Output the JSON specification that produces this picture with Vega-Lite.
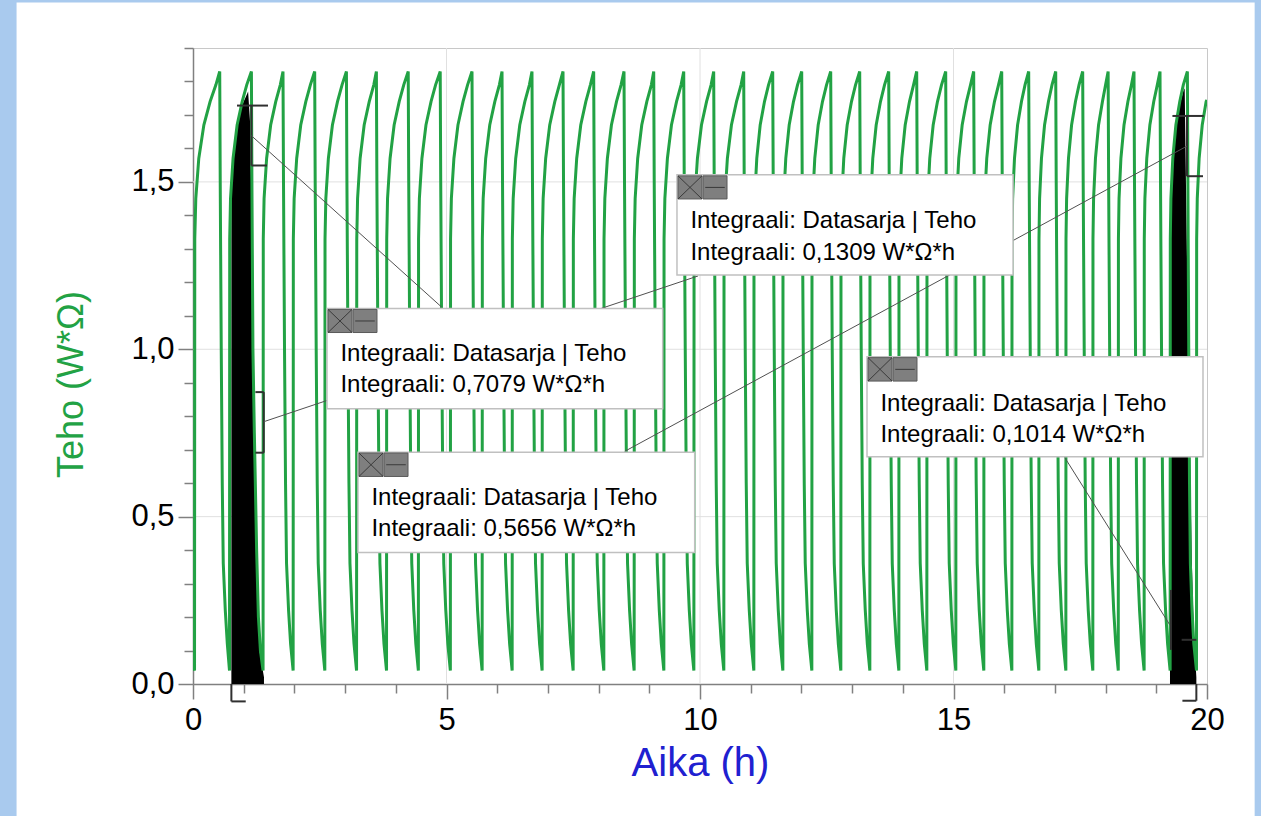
{
"$schema": "https://vega.github.io/schema/vega-lite/v6.json",
"width": 1014, "height": 636,
"autosize": "none",
"padding": {"left": 193, "top": 48, "right": 54, "bottom": 132},
"background": "white",
"config": {"view": {"stroke": "#c8c8c8", "strokeWidth": 1}, "font": "Liberation Sans"},
"datasets": {
"curve": [
{"t":0,"p":0.06},{"t":0.03,"p":0.04},{"t":0.035,"p":1.33},{"t":0.055,"p":1.45},{"t":0.114,"p":1.57},{"t":0.214,"p":1.67},{"t":0.338,"p":1.74},{"t":0.452,"p":1.79},{"t":0.527,"p":1.83},{"t":0.537,"p":1.5},{"t":0.557,"p":1.0},{"t":0.577,"p":0.6},{"t":0.597,"p":0.36},{"t":0.637,"p":0.22},{"t":0.677,"p":0.12},
{"t":0.72,"p":0.04},{"t":0.724,"p":1.33},{"t":0.74,"p":1.45},{"t":0.79,"p":1.57},{"t":0.87,"p":1.67},{"t":0.97,"p":1.74},{"t":1.06,"p":1.79},{"t":1.152,"p":1.83},{"t":1.162,"p":1.5},{"t":1.182,"p":1.0},{"t":1.21,"p":0.75},{"t":1.255,"p":0.4},{"t":1.29,"p":0.2},{"t":1.33,"p":0.1},
{"t":1.382,"p":0.04},{"t":1.386,"p":1.33},{"t":1.402,"p":1.45},{"t":1.452,"p":1.57},{"t":1.532,"p":1.67},{"t":1.632,"p":1.74},{"t":1.722,"p":1.79},{"t":1.775,"p":1.83},{"t":1.785,"p":1.5},{"t":1.805,"p":1.0},{"t":1.825,"p":0.6},{"t":1.845,"p":0.36},{"t":1.885,"p":0.22},{"t":1.925,"p":0.12},
{"t":1.975,"p":0.04},{"t":1.979,"p":1.33},{"t":1.995,"p":1.45},{"t":2.045,"p":1.57},{"t":2.125,"p":1.67},{"t":2.225,"p":1.74},{"t":2.315,"p":1.79},{"t":2.4,"p":1.83},{"t":2.41,"p":1.5},{"t":2.43,"p":1.0},{"t":2.45,"p":0.6},{"t":2.47,"p":0.36},{"t":2.51,"p":0.22},{"t":2.55,"p":0.12},
{"t":2.6,"p":0.04},{"t":2.604,"p":1.33},{"t":2.62,"p":1.45},{"t":2.67,"p":1.57},{"t":2.75,"p":1.67},{"t":2.85,"p":1.74},{"t":2.94,"p":1.79},{"t":3.026,"p":1.83},{"t":3.036,"p":1.5},{"t":3.056,"p":1.0},{"t":3.076,"p":0.6},{"t":3.096,"p":0.36},{"t":3.136,"p":0.22},{"t":3.176,"p":0.12},
{"t":3.226,"p":0.04},{"t":3.23,"p":1.33},{"t":3.246,"p":1.45},{"t":3.296,"p":1.57},{"t":3.376,"p":1.67},{"t":3.476,"p":1.74},{"t":3.566,"p":1.79},{"t":3.617,"p":1.83},{"t":3.627,"p":1.5},{"t":3.647,"p":1.0},{"t":3.667,"p":0.6},{"t":3.687,"p":0.36},{"t":3.727,"p":0.22},{"t":3.767,"p":0.12},
{"t":3.817,"p":0.04},{"t":3.821,"p":1.33},{"t":3.837,"p":1.45},{"t":3.887,"p":1.57},{"t":3.967,"p":1.67},{"t":4.067,"p":1.74},{"t":4.157,"p":1.79},{"t":4.245,"p":1.83},{"t":4.255,"p":1.5},{"t":4.275,"p":1.0},{"t":4.295,"p":0.6},{"t":4.315,"p":0.36},{"t":4.355,"p":0.22},{"t":4.395,"p":0.12},
{"t":4.445,"p":0.04},{"t":4.449,"p":1.33},{"t":4.465,"p":1.45},{"t":4.515,"p":1.57},{"t":4.595,"p":1.67},{"t":4.695,"p":1.74},{"t":4.785,"p":1.79},{"t":4.876,"p":1.83},{"t":4.886,"p":1.5},{"t":4.906,"p":1.0},{"t":4.926,"p":0.6},{"t":4.946,"p":0.36},{"t":4.986,"p":0.22},{"t":5.026,"p":0.12},
{"t":5.076,"p":0.04},{"t":5.08,"p":1.33},{"t":5.096,"p":1.45},{"t":5.146,"p":1.57},{"t":5.226,"p":1.67},{"t":5.326,"p":1.74},{"t":5.416,"p":1.79},{"t":5.503,"p":1.83},{"t":5.513,"p":1.5},{"t":5.533,"p":1.0},{"t":5.553,"p":0.6},{"t":5.573,"p":0.36},{"t":5.613,"p":0.22},{"t":5.653,"p":0.12},
{"t":5.703,"p":0.04},{"t":5.707,"p":1.33},{"t":5.723,"p":1.45},{"t":5.773,"p":1.57},{"t":5.853,"p":1.67},{"t":5.953,"p":1.74},{"t":6.043,"p":1.79},{"t":6.095,"p":1.83},{"t":6.105,"p":1.5},{"t":6.125,"p":1.0},{"t":6.145,"p":0.6},{"t":6.165,"p":0.36},{"t":6.205,"p":0.22},{"t":6.245,"p":0.12},
{"t":6.295,"p":0.04},{"t":6.299,"p":1.33},{"t":6.315,"p":1.45},{"t":6.365,"p":1.57},{"t":6.445,"p":1.67},{"t":6.545,"p":1.74},{"t":6.635,"p":1.79},{"t":6.686,"p":1.83},{"t":6.696,"p":1.5},{"t":6.716,"p":1.0},{"t":6.736,"p":0.6},{"t":6.756,"p":0.36},{"t":6.796,"p":0.22},{"t":6.836,"p":0.12},
{"t":6.886,"p":0.04},{"t":6.89,"p":1.33},{"t":6.906,"p":1.45},{"t":6.956,"p":1.57},{"t":7.036,"p":1.67},{"t":7.136,"p":1.74},{"t":7.226,"p":1.79},{"t":7.298,"p":1.83},{"t":7.308,"p":1.5},{"t":7.328,"p":1.0},{"t":7.348,"p":0.6},{"t":7.368,"p":0.36},{"t":7.408,"p":0.22},{"t":7.448,"p":0.12},
{"t":7.498,"p":0.04},{"t":7.502,"p":1.33},{"t":7.518,"p":1.45},{"t":7.568,"p":1.57},{"t":7.648,"p":1.67},{"t":7.748,"p":1.74},{"t":7.838,"p":1.79},{"t":7.903,"p":1.83},{"t":7.913,"p":1.5},{"t":7.933,"p":1.0},{"t":7.953,"p":0.6},{"t":7.973,"p":0.36},{"t":8.013,"p":0.22},{"t":8.053,"p":0.12},
{"t":8.103,"p":0.04},{"t":8.107,"p":1.33},{"t":8.123,"p":1.45},{"t":8.173,"p":1.57},{"t":8.253,"p":1.67},{"t":8.353,"p":1.74},{"t":8.443,"p":1.79},{"t":8.501,"p":1.83},{"t":8.511,"p":1.5},{"t":8.531,"p":1.0},{"t":8.551,"p":0.6},{"t":8.571,"p":0.36},{"t":8.611,"p":0.22},{"t":8.651,"p":0.12},
{"t":8.701,"p":0.04},{"t":8.705,"p":1.33},{"t":8.721,"p":1.45},{"t":8.771,"p":1.57},{"t":8.851,"p":1.67},{"t":8.951,"p":1.74},{"t":9.041,"p":1.79},{"t":9.087,"p":1.83},{"t":9.097,"p":1.5},{"t":9.117,"p":1.0},{"t":9.137,"p":0.6},{"t":9.157,"p":0.36},{"t":9.197,"p":0.22},{"t":9.237,"p":0.12},
{"t":9.287,"p":0.04},{"t":9.291,"p":1.33},{"t":9.307,"p":1.45},{"t":9.357,"p":1.57},{"t":9.437,"p":1.67},{"t":9.537,"p":1.74},{"t":9.627,"p":1.79},{"t":9.679,"p":1.83},{"t":9.689,"p":1.5},{"t":9.709,"p":1.0},{"t":9.729,"p":0.6},{"t":9.749,"p":0.36},{"t":9.789,"p":0.22},{"t":9.829,"p":0.12},
{"t":9.879,"p":0.04},{"t":9.883,"p":1.33},{"t":9.899,"p":1.45},{"t":9.949,"p":1.57},{"t":10.029,"p":1.67},{"t":10.129,"p":1.74},{"t":10.219,"p":1.79},{"t":10.27,"p":1.83},{"t":10.28,"p":1.5},{"t":10.3,"p":1.0},{"t":10.32,"p":0.6},{"t":10.34,"p":0.36},{"t":10.38,"p":0.22},{"t":10.42,"p":0.12},
{"t":10.47,"p":0.04},{"t":10.474,"p":1.33},{"t":10.49,"p":1.45},{"t":10.54,"p":1.57},{"t":10.62,"p":1.67},{"t":10.72,"p":1.74},{"t":10.81,"p":1.79},{"t":10.862,"p":1.83},{"t":10.872,"p":1.5},{"t":10.892,"p":1.0},{"t":10.912,"p":0.6},{"t":10.932,"p":0.36},{"t":10.972,"p":0.22},{"t":11.012,"p":0.12},
{"t":11.062,"p":0.04},{"t":11.065,"p":1.33},{"t":11.079,"p":1.45},{"t":11.12,"p":1.57},{"t":11.187,"p":1.67},{"t":11.272,"p":1.74},{"t":11.352,"p":1.79},{"t":11.434,"p":1.83},{"t":11.444,"p":1.5},{"t":11.464,"p":1.0},{"t":11.484,"p":0.6},{"t":11.504,"p":0.36},{"t":11.544,"p":0.22},{"t":11.584,"p":0.12},
{"t":11.634,"p":0.04},{"t":11.637,"p":1.33},{"t":11.651,"p":1.45},{"t":11.692,"p":1.57},{"t":11.759,"p":1.67},{"t":11.844,"p":1.74},{"t":11.924,"p":1.79},{"t":12.006,"p":1.83},{"t":12.016,"p":1.5},{"t":12.036,"p":1.0},{"t":12.056,"p":0.6},{"t":12.076,"p":0.36},{"t":12.116,"p":0.22},{"t":12.156,"p":0.12},
{"t":12.206,"p":0.04},{"t":12.209,"p":1.33},{"t":12.223,"p":1.45},{"t":12.264,"p":1.57},{"t":12.331,"p":1.67},{"t":12.416,"p":1.74},{"t":12.496,"p":1.79},{"t":12.578,"p":1.83},{"t":12.588,"p":1.5},{"t":12.608,"p":1.0},{"t":12.628,"p":0.6},{"t":12.648,"p":0.36},{"t":12.688,"p":0.22},{"t":12.728,"p":0.12},
{"t":12.778,"p":0.04},{"t":12.781,"p":1.33},{"t":12.795,"p":1.45},{"t":12.836,"p":1.57},{"t":12.903,"p":1.67},{"t":12.988,"p":1.74},{"t":13.068,"p":1.79},{"t":13.15,"p":1.83},{"t":13.16,"p":1.5},{"t":13.18,"p":1.0},{"t":13.2,"p":0.6},{"t":13.22,"p":0.36},{"t":13.26,"p":0.22},{"t":13.3,"p":0.12},
{"t":13.35,"p":0.04},{"t":13.353,"p":1.33},{"t":13.367,"p":1.45},{"t":13.408,"p":1.57},{"t":13.475,"p":1.67},{"t":13.56,"p":1.74},{"t":13.64,"p":1.79},{"t":13.722,"p":1.83},{"t":13.732,"p":1.5},{"t":13.752,"p":1.0},{"t":13.772,"p":0.6},{"t":13.792,"p":0.36},{"t":13.832,"p":0.22},{"t":13.872,"p":0.12},
{"t":13.922,"p":0.04},{"t":13.925,"p":1.33},{"t":13.939,"p":1.45},{"t":13.98,"p":1.57},{"t":14.047,"p":1.67},{"t":14.132,"p":1.74},{"t":14.212,"p":1.79},{"t":14.274,"p":1.83},{"t":14.284,"p":1.5},{"t":14.304,"p":1.0},{"t":14.324,"p":0.6},{"t":14.344,"p":0.36},{"t":14.384,"p":0.22},{"t":14.424,"p":0.12},
{"t":14.474,"p":0.04},{"t":14.477,"p":1.33},{"t":14.491,"p":1.45},{"t":14.532,"p":1.57},{"t":14.599,"p":1.67},{"t":14.684,"p":1.74},{"t":14.764,"p":1.79},{"t":14.846,"p":1.83},{"t":14.856,"p":1.5},{"t":14.876,"p":1.0},{"t":14.896,"p":0.6},{"t":14.916,"p":0.36},{"t":14.956,"p":0.22},{"t":14.996,"p":0.12},
{"t":15.046,"p":0.04},{"t":15.049,"p":1.33},{"t":15.063,"p":1.45},{"t":15.104,"p":1.57},{"t":15.171,"p":1.67},{"t":15.256,"p":1.74},{"t":15.336,"p":1.79},{"t":15.398,"p":1.83},{"t":15.408,"p":1.5},{"t":15.428,"p":1.0},{"t":15.448,"p":0.6},{"t":15.468,"p":0.36},{"t":15.508,"p":0.22},{"t":15.548,"p":0.12},
{"t":15.598,"p":0.04},{"t":15.601,"p":1.33},{"t":15.615,"p":1.45},{"t":15.656,"p":1.57},{"t":15.723,"p":1.67},{"t":15.808,"p":1.74},{"t":15.888,"p":1.79},{"t":15.951,"p":1.83},{"t":15.961,"p":1.5},{"t":15.981,"p":1.0},{"t":16.001,"p":0.6},{"t":16.021,"p":0.36},{"t":16.061,"p":0.22},{"t":16.101,"p":0.12},
{"t":16.151,"p":0.04},{"t":16.154,"p":1.33},{"t":16.166,"p":1.45},{"t":16.203,"p":1.57},{"t":16.264,"p":1.67},{"t":16.341,"p":1.74},{"t":16.411,"p":1.79},{"t":16.483,"p":1.83},{"t":16.493,"p":1.5},{"t":16.513,"p":1.0},{"t":16.533,"p":0.6},{"t":16.553,"p":0.36},{"t":16.593,"p":0.22},{"t":16.633,"p":0.12},
{"t":16.683,"p":0.04},{"t":16.686,"p":1.33},{"t":16.698,"p":1.45},{"t":16.735,"p":1.57},{"t":16.796,"p":1.67},{"t":16.873,"p":1.74},{"t":16.943,"p":1.79},{"t":17.016,"p":1.83},{"t":17.026,"p":1.5},{"t":17.046,"p":1.0},{"t":17.066,"p":0.6},{"t":17.086,"p":0.36},{"t":17.126,"p":0.22},{"t":17.166,"p":0.12},
{"t":17.216,"p":0.04},{"t":17.219,"p":1.33},{"t":17.231,"p":1.45},{"t":17.268,"p":1.57},{"t":17.329,"p":1.67},{"t":17.406,"p":1.74},{"t":17.476,"p":1.79},{"t":17.548,"p":1.83},{"t":17.558,"p":1.5},{"t":17.578,"p":1.0},{"t":17.598,"p":0.6},{"t":17.618,"p":0.36},{"t":17.658,"p":0.22},{"t":17.698,"p":0.12},
{"t":17.748,"p":0.04},{"t":17.751,"p":1.33},{"t":17.763,"p":1.45},{"t":17.8,"p":1.57},{"t":17.861,"p":1.67},{"t":17.938,"p":1.74},{"t":18.0,"p":1.79},{"t":18.05,"p":1.83},{"t":18.06,"p":1.5},{"t":18.08,"p":1.0},{"t":18.1,"p":0.6},{"t":18.12,"p":0.36},{"t":18.16,"p":0.22},{"t":18.2,"p":0.12},
{"t":18.25,"p":0.04},{"t":18.253,"p":1.33},{"t":18.265,"p":1.45},{"t":18.302,"p":1.57},{"t":18.363,"p":1.67},{"t":18.44,"p":1.74},{"t":18.51,"p":1.79},{"t":18.56,"p":1.83},{"t":18.57,"p":1.5},{"t":18.59,"p":1.0},{"t":18.61,"p":0.6},{"t":18.63,"p":0.36},{"t":18.67,"p":0.22},{"t":18.71,"p":0.12},
{"t":18.76,"p":0.04},{"t":18.763,"p":1.33},{"t":18.775,"p":1.45},{"t":18.812,"p":1.57},{"t":18.873,"p":1.67},{"t":18.95,"p":1.74},{"t":19.02,"p":1.79},{"t":19.073,"p":1.83},{"t":19.083,"p":1.5},{"t":19.103,"p":1.0},{"t":19.123,"p":0.6},{"t":19.143,"p":0.36},{"t":19.183,"p":0.22},{"t":19.223,"p":0.12},
{"t":19.273,"p":0.04},{"t":19.276,"p":1.33},{"t":19.288,"p":1.45},{"t":19.325,"p":1.57},{"t":19.386,"p":1.67},{"t":19.463,"p":1.74},{"t":19.533,"p":1.79},{"t":19.613,"p":1.83},{"t":19.623,"p":1.5},{"t":19.64,"p":1.0},{"t":19.655,"p":0.6},{"t":19.672,"p":0.36},{"t":19.705,"p":0.22},{"t":19.74,"p":0.12},
{"t":19.793,"p":0.04},{"t":19.796,"p":1.33},{"t":19.808,"p":1.45},{"t":19.845,"p":1.57},{"t":19.906,"p":1.67},{"t":19.983,"p":1.74},{"t":20.0,"p":1.745}
],
"shade1": [
{"t":0.757,"p":1.47},{"t":0.79,"p":1.57},{"t":0.87,"p":1.67},{"t":0.97,"p":1.73},{"t":1.06,"p":1.76},{"t":1.087,"p":1.77},{"t":1.125,"p":1.68},{"t":1.15,"p":1.45},{"t":1.185,"p":1.1},{"t":1.21,"p":0.8},{"t":1.255,"p":0.4},{"t":1.31,"p":0.1},{"t":1.4,"p":0.02}
],
"shade2": [
{"t":19.27,"p":1.3},{"t":19.288,"p":1.45},{"t":19.325,"p":1.57},{"t":19.386,"p":1.67},{"t":19.463,"p":1.73},{"t":19.53,"p":1.77},{"t":19.56,"p":1.78},{"t":19.6,"p":1.33},{"t":19.65,"p":0.8},{"t":19.7,"p":0.37},{"t":19.74,"p":0.15},{"t":19.79,"p":0.02}
],
"brackets": [
{"x":0.868,"y":1.728,"x2":1.479,"y2":1.728},{"x":1.152,"y":1.728,"x2":1.152,"y2":1.549},{"x":1.152,"y":1.549,"x2":1.46,"y2":1.549},
{"x":1.231,"y":0.872,"x2":1.395,"y2":0.872},{"x":1.395,"y":0.872,"x2":1.395,"y2":0.691},{"x":1.231,"y":0.691,"x2":1.395,"y2":0.691},
{"x":19.318,"y":1.697,"x2":19.936,"y2":1.697},{"x":19.606,"y":1.697,"x2":19.606,"y2":1.517},{"x":19.606,"y":1.517,"x2":19.921,"y2":1.517},
{"x":19.29,"y":0.281,"x2":19.29,"y2":0.102},{"x":19.5,"y":0.132,"x2":19.79,"y2":0.132},
{"x":0.757,"y":0,"x2":0.757,"y2":-0.052},{"x":0.757,"y":-0.052,"x2":1.04,"y2":-0.052},
{"x":19.79,"y":0,"x2":19.79,"y2":-0.05},{"x":19.515,"y":-0.05,"x2":19.79,"y2":-0.05}
],
"connectors": [
{"x":1.152,"y":1.638,"x2":4.904,"y2":1.126},
{"x":1.395,"y":0.7835,"x2":9.961,"y2":1.219},
{"x":19.606,"y":1.607,"x2":8.515,"y2":0.695},
{"x":19.265,"y":0.177,"x2":17.193,"y2":0.677}
],
"boxes": [
{"x":2.643,"x2":9.264,"y":1.122,"y2":0.822},
{"x":9.546,"x2":16.174,"y":1.521,"y2":1.222},
{"x":3.254,"x2":9.895,"y":0.6925,"y2":0.393},
{"x":13.294,"x2":19.921,"y":0.978,"y2":0.679}
],
"icons": [
{"x":2.663,"x2":3.136,"y":1.119,"y2":1.05},{"x":3.156,"x2":3.629,"y":1.119,"y2":1.05},
{"x":9.566,"x2":10.039,"y":1.518,"y2":1.449},{"x":10.059,"x2":10.533,"y":1.518,"y2":1.449},
{"x":3.274,"x2":3.748,"y":0.69,"y2":0.62},{"x":3.767,"x2":4.241,"y":0.69,"y2":0.62},
{"x":13.314,"x2":13.787,"y":0.975,"y2":0.905},{"x":13.807,"x2":14.28,"y":0.975,"y2":0.905}
],
"glyphs": [
{"x":2.663,"y":1.119,"x2":3.136,"y2":1.05},{"x":2.663,"y":1.05,"x2":3.136,"y2":1.119},{"x":3.2,"y":1.0845,"x2":3.585,"y2":1.0845},
{"x":9.566,"y":1.518,"x2":10.039,"y2":1.449},{"x":9.566,"y":1.449,"x2":10.039,"y2":1.518},{"x":10.103,"y":1.4835,"x2":10.489,"y2":1.4835},
{"x":3.274,"y":0.69,"x2":3.748,"y2":0.62},{"x":3.274,"y":0.62,"x2":3.748,"y2":0.69},{"x":3.811,"y":0.655,"x2":4.197,"y2":0.655},
{"x":13.314,"y":0.975,"x2":13.787,"y2":0.905},{"x":13.314,"y":0.905,"x2":13.787,"y2":0.975},{"x":13.851,"y":0.94,"x2":14.236,"y2":0.94}
],
"texts": [
{"x":2.907,"y":0.965,"s":"Integraali: Datasarja | Teho"},{"x":2.907,"y":0.872,"s":"Integraali: 0,7079 W*Ω*h"},
{"x":9.811,"y":1.361,"s":"Integraali: Datasarja | Teho"},{"x":9.811,"y":1.267,"s":"Integraali: 0,1309 W*Ω*h"},
{"x":3.519,"y":0.536,"s":"Integraali: Datasarja | Teho"},{"x":3.519,"y":0.443,"s":"Integraali: 0,5656 W*Ω*h"},
{"x":13.558,"y":0.815,"s":"Integraali: Datasarja | Teho"},{"x":13.558,"y":0.722,"s":"Integraali: 0,1014 W*Ω*h"}
],
"gridx": [{"g":5},{"g":10},{"g":15}],
"gridy": [{"g":0.5},{"g":1.0},{"g":1.5}]
},
"encoding": {
"x": {"type":"quantitative","scale":{"domain":[0,20],"nice":false,"zero":false},
 "axis":{"title":"Aika (h)","values":[0,1,2,3,4,5,6,7,8,9,10,11,12,13,14,15,16,17,18,19,20],
  "labelExpr":"datum.value % 5 === 0 ? datum.label : ''","labelFlush":false,
  "tickSize":{"condition":{"test":"datum.value % 5 === 0","value":15},"value":9},
  "grid":false,"domainColor":"#808080","tickColor":"#808080","tickWidth":1.5,"domainWidth":1.5,
  "labelFontSize":31,"labelColor":"#000000","labelPadding":6,"labelFont":"Liberation Sans",
  "titleFontSize":40,"titleFontWeight":"normal","titleColor":"#2020d0","titlePadding":8,"titleFont":"Liberation Sans"}},
"y": {"type":"quantitative","scale":{"domain":[0,1.9],"nice":false,"zero":false},
 "axis":{"title":"Teho (W*Ω)","values":[0,0.1,0.2,0.3,0.4,0.5,0.6,0.7,0.8,0.9,1.0,1.1,1.2,1.3,1.4,1.5,1.6,1.7,1.8,1.9],
  "labelExpr":"round(datum.value*10) % 5 === 0 ? replace(format(datum.value,'.1f'),'.',',') : ''","labelFlush":false,
  "tickSize":{"condition":{"test":"round(datum.value*10) % 5 === 0","value":15},"value":9},
  "grid":false,"domainColor":"#808080","tickColor":"#808080","tickWidth":1.5,"domainWidth":1.5,
  "labelFontSize":31,"labelColor":"#000000","labelPadding":4,"labelFont":"Liberation Sans",
  "titleFontSize":36,"titleFontWeight":"normal","titleColor":"#22a244","titlePadding":40,"titleY":336,"titleFont":"Liberation Sans"}}
},
"layer": [
{"data":{"values":[{}]},"mark":{"type":"rect","clip":false,"color":"#a9caee"},
 "encoding":{"x":{"datum":-3.9},"x2":{"datum":-3.48},"y":{"datum":2.2},"y2":{"datum":-0.6}}},
{"data":{"values":[{}]},"mark":{"type":"rect","clip":false,"color":"#a9caee"},
 "encoding":{"x":{"datum":-3.9},"x2":{"datum":21.3},"y":{"datum":2.2},"y2":{"datum":2.036}}},
{"data":{"values":[{}]},"mark":{"type":"rect","clip":false,"color":"#a9caee"},
 "encoding":{"x":{"datum":20.94},"x2":{"datum":21.3},"y":{"datum":2.2},"y2":{"datum":-0.6}}},
{"data":{"name":"gridx"},"mark":{"type":"rule","color":"#e0e0e0","strokeWidth":1},"encoding":{"x":{"field":"g"}}},
{"data":{"name":"gridy"},"mark":{"type":"rule","color":"#e0e0e0","strokeWidth":1},"encoding":{"y":{"field":"g"}}},
{"data":{"name":"shade1"},"mark":{"type":"area","color":"#000000","opacity":1,"interpolate":"linear"},
 "encoding":{"x":{"field":"t"},"y":{"field":"p"}}},
{"data":{"name":"shade2"},"mark":{"type":"area","color":"#000000","opacity":1,"interpolate":"linear"},
 "encoding":{"x":{"field":"t"},"y":{"field":"p"}}},
{"data":{"name":"curve"},"mark":{"type":"line","color":"#22a244","strokeWidth":3,"clip":true},
 "encoding":{"x":{"field":"t"},"y":{"field":"p"},"order":{"field":"t"}}},
{"data":{"name":"brackets"},"mark":{"type":"rule","color":"#303030","strokeWidth":2,"clip":false},
 "encoding":{"x":{"field":"x"},"y":{"field":"y"},"x2":{"field":"x2"},"y2":{"field":"y2"}}},
{"data":{"name":"connectors"},"mark":{"type":"rule","color":"#505050","strokeWidth":1},
 "encoding":{"x":{"field":"x"},"y":{"field":"y"},"x2":{"field":"x2"},"y2":{"field":"y2"}}},
{"data":{"name":"boxes"},"mark":{"type":"rect","fill":"#ffffff","stroke":"#c0c0c0","strokeWidth":1.5},
 "encoding":{"x":{"field":"x"},"x2":{"field":"x2"},"y":{"field":"y"},"y2":{"field":"y2"}}},
{"data":{"name":"icons"},"mark":{"type":"rect","fill":"#7f7f7f","stroke":"#5a5a5a","strokeWidth":1},
 "encoding":{"x":{"field":"x"},"x2":{"field":"x2"},"y":{"field":"y"},"y2":{"field":"y2"}}},
{"data":{"name":"glyphs"},"mark":{"type":"rule","color":"#3a3a3a","strokeWidth":1},
 "encoding":{"x":{"field":"x"},"y":{"field":"y"},"x2":{"field":"x2"},"y2":{"field":"y2"}}},
{"data":{"name":"texts"},"mark":{"type":"text","align":"left","baseline":"alphabetic","fontSize":24,"font":"Liberation Sans","color":"#000000"},
 "encoding":{"x":{"field":"x"},"y":{"field":"y"},"text":{"field":"s"}}}
]
}
